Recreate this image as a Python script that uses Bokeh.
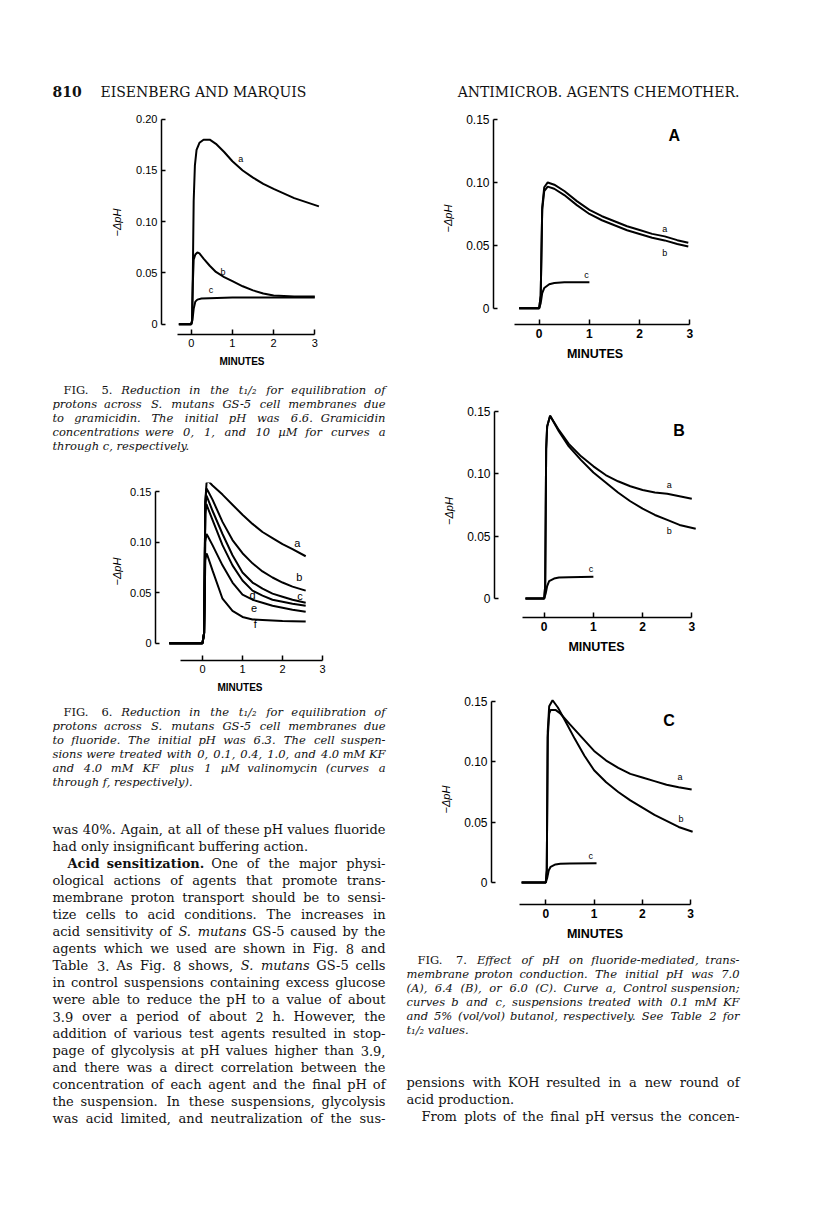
from bokeh.plotting import figure
from bokeh.layouts import column, row
from bokeh.models import Range1d, FixedTicker
from bokeh.core.properties import value
from bokeh.embed import file_html
from bokeh.resources import INLINE

# ---------------- data ----------------
# Fig. 5 (gramicidin)
f5_a_x = [-0.3, 0.0, 0.02, 0.04, 0.06, 0.09, 0.13, 0.2, 0.3, 0.45, 0.6, 0.8, 1.0, 1.25, 1.5, 1.75, 2.0, 2.5, 3.1]
f5_a_y = [0.0, 0.0, 0.003, 0.05, 0.12, 0.155, 0.170, 0.177, 0.180, 0.180, 0.176, 0.168, 0.159, 0.150, 0.143, 0.137, 0.132, 0.123, 0.115]
f5_b_x = [-0.3, 0.0, 0.02, 0.04, 0.06, 0.1, 0.15, 0.2, 0.3, 0.45, 0.6, 0.8, 1.0, 1.25, 1.5, 1.75, 2.0, 2.5, 3.0]
f5_b_y = [0.0, 0.0, 0.003, 0.04, 0.063, 0.068, 0.070, 0.069, 0.064, 0.057, 0.051, 0.046, 0.042, 0.037, 0.033, 0.030, 0.028, 0.027, 0.027]
f5_c_x = [-0.3, 0.0, 0.03, 0.06, 0.1, 0.15, 0.25, 1.0, 2.0, 3.0]
f5_c_y = [0.0, 0.0, 0.004, 0.015, 0.022, 0.024, 0.025, 0.026, 0.026, 0.026]
f5_labels = ["a", "b", "c"]
f5_lab_x = [1.20, 0.77, 0.48]
f5_lab_y = [0.161, 0.051, 0.033]

# Fig. 6 (fluoride)
f6_x = [-0.83, 0.0, 0.04, 0.07, 0.1, 0.13, 0.25, 0.5, 0.75, 1.0, 1.25, 1.5, 1.75, 2.0, 2.25, 2.58]
f6_a_y = [0.0, 0.0, 0.01, 0.14, 0.158, 0.161, 0.156, 0.147, 0.137, 0.127, 0.118, 0.110, 0.104, 0.098, 0.093, 0.086]
f6_b_y = [0.0, 0.0, 0.01, 0.14, 0.153, 0.151, 0.142, 0.120, 0.102, 0.089, 0.079, 0.071, 0.065, 0.060, 0.056, 0.052]
f6_c_y = [0.0, 0.0, 0.01, 0.135, 0.146, 0.143, 0.131, 0.108, 0.087, 0.070, 0.060, 0.054, 0.049, 0.046, 0.043, 0.040]
f6_d_y = [0.0, 0.0, 0.01, 0.128, 0.1375, 0.134, 0.122, 0.097, 0.077, 0.062, 0.052, 0.047, 0.043, 0.041, 0.039, 0.037]
f6_e_y = [0.0, 0.0, 0.01, 0.100, 0.108, 0.106, 0.097, 0.077, 0.060, 0.048, 0.043, 0.040, 0.037, 0.035, 0.033, 0.031]
f6_f_y = [0.0, 0.0, 0.01, 0.082, 0.0887, 0.086, 0.072, 0.044, 0.032, 0.026, 0.0235, 0.023, 0.0225, 0.022, 0.0218, 0.0215]
f6_labels = ["a", "b", "c", "d", "e", "f"]
f6_lab_x = [2.37, 2.42, 2.44, 1.25, 1.29, 1.32]
f6_lab_y = [0.099, 0.065, 0.047, 0.048, 0.035, 0.019]

# Fig. 7A (pH 7.0)
f7a_x = [-0.4, 0.0, 0.03, 0.06, 0.1, 0.17, 0.3, 0.5, 0.75, 1.0, 1.25, 1.5, 1.75, 2.0, 2.25, 2.5, 2.75, 2.97]
f7a_a_y = [0.0, 0.0, 0.01, 0.080, 0.096, 0.0998, 0.098, 0.093, 0.085, 0.078, 0.073, 0.069, 0.065, 0.062, 0.059, 0.057, 0.054, 0.052]
f7a_b_y = [0.0, 0.0, 0.01, 0.078, 0.093, 0.0965, 0.0948, 0.0898, 0.0818, 0.0748, 0.0698, 0.0658, 0.0619, 0.0589, 0.0559, 0.0538, 0.0510, 0.0490]
f7a_c_x = [-0.4, 0.0, 0.03, 0.06, 0.1, 0.2, 0.3, 0.5, 1.0]
f7a_c_y = [0.0, 0.0, 0.004, 0.012, 0.016, 0.019, 0.020, 0.0205, 0.0205]
f7a_labels = ["a", "b", "c"]
f7a_lab_x = [2.5, 2.5, 0.94]
f7a_lab_y = [0.063, 0.044, 0.0265]

# Fig. 7B (pH 6.4)
f7b_a_x = [-0.38, 0.0, 0.02, 0.04, 0.06, 0.12, 0.3, 0.5, 0.75, 1.0, 1.25, 1.5, 1.75, 2.0, 2.25, 2.5, 2.75, 3.0]
f7b_a_y = [0.0, 0.0, 0.01, 0.12, 0.138, 0.1465, 0.135, 0.124, 0.114, 0.106, 0.099, 0.094, 0.090, 0.087, 0.085, 0.084, 0.082, 0.080]
f7b_b_x = [-0.38, 0.0, 0.02, 0.04, 0.06, 0.12, 0.3, 0.5, 0.75, 1.0, 1.25, 1.5, 1.75, 2.0, 2.25, 2.5, 2.75, 3.08]
f7b_b_y = [0.0, 0.0, 0.01, 0.12, 0.138, 0.1465, 0.134, 0.122, 0.111, 0.101, 0.093, 0.085, 0.078, 0.072, 0.067, 0.063, 0.059, 0.056]
f7b_c_x = [-0.38, 0.0, 0.03, 0.06, 0.1, 0.2, 0.3, 0.5, 1.0]
f7b_c_y = [0.0, 0.0, 0.004, 0.010, 0.014, 0.016, 0.0168, 0.017, 0.0175]
f7b_labels = ["a", "b", "c"]
f7b_lab_x = [2.54, 2.54, 0.95]
f7b_lab_y = [0.091, 0.054, 0.0235]

# Fig. 7C (pH 6.0)
f7c_a_x = [-0.5, 0.0, 0.02, 0.04, 0.07, 0.1, 0.2, 0.3, 0.5, 0.75, 1.0, 1.25, 1.5, 1.75, 2.0, 2.25, 2.5, 2.75, 3.02]
f7c_a_y = [0.0, 0.0, 0.01, 0.12, 0.140, 0.143, 0.143, 0.140, 0.131, 0.120, 0.109, 0.101, 0.095, 0.090, 0.087, 0.084, 0.081, 0.079, 0.077]
f7c_b_x = [-0.5, 0.0, 0.02, 0.04, 0.07, 0.14, 0.25, 0.4, 0.6, 0.8, 1.0, 1.25, 1.5, 1.75, 2.0, 2.25, 2.5, 2.75, 3.04]
f7c_b_y = [0.0, 0.0, 0.01, 0.125, 0.146, 0.151, 0.145, 0.134, 0.119, 0.105, 0.093, 0.083, 0.075, 0.068, 0.062, 0.056, 0.051, 0.046, 0.042]
f7c_c_x = [-0.5, 0.0, 0.03, 0.06, 0.1, 0.2, 0.3, 0.5, 1.05]
f7c_c_y = [0.0, 0.0, 0.004, 0.010, 0.013, 0.015, 0.0155, 0.0158, 0.016]
f7c_labels = ["a", "b", "c"]
f7c_lab_x = [2.78, 2.8, 0.93]
f7c_lab_y = [0.087, 0.053, 0.022]

x_ticks = [0, 1, 2, 3]
y_ticks_5 = [0, 0.05, 0.10, 0.15, 0.20]
y_ticks_7 = [0, 0.05, 0.10, 0.15]
y_tick_text = {0: "0", 0.05: "0.05", 0.10: "0.10", 0.15: "0.15", 0.20: "0.20"}

header_left = ["810", "EISENBERG AND MARQUIS"]
header_right = "ANTIMICROB. AGENTS CHEMOTHER."

# "_" prefix = alternate style (upright in captions, italic in body), "^" prefix = bold
cap5 = ["_FIG. _5. Reduction in the t\u2081/\u2082 for equilibration of",
        "protons across S. mutans GS-5 cell membranes due",
        "to gramicidin. The initial pH was 6.6. Gramicidin",
        "concentrations were 0, 1, and 10 \u00b5M for curves a",
        "through c, respectively."]
cap6 = ["_FIG. _6. Reduction in the t\u2081/\u2082 for equilibration of",
        "protons across S. mutans GS-5 cell membranes due",
        "to fluoride. The initial pH was 6.3. The cell suspen-",
        "sions were treated with 0, 0.1, 0.4, 1.0, and 4.0 mM KF",
        "and 4.0 mM KF plus 1 \u00b5M valinomycin (curves a",
        "through f, respectively)."]
cap7 = ["_FIG. _7. Effect of pH on fluoride-mediated, trans-",
        "membrane proton conduction. The initial pH was 7.0",
        "(A), 6.4 (B), or 6.0 (C). Curve a, Control suspension;",
        "curves b and c, suspensions treated with 0.1 mM KF",
        "and 5% (vol/vol) butanol, respectively. See Table 2 for",
        "t\u2081/\u2082 values."]
body_left = ["was 40%. Again, at all of these pH values fluoride",
             "had only insignificant buffering action.",
             "^Acid ^sensitization. One of the major physi-",
             "ological actions of agents that promote trans-",
             "membrane proton transport should be to sensi-",
             "tize cells to acid conditions. The increases in",
             "acid sensitivity of _S. _mutans GS-5 caused by the",
             "agents which we used are shown in Fig. 8 and",
             "Table 3. As Fig. 8 shows, _S. _mutans GS-5 cells",
             "in control suspensions containing excess glucose",
             "were able to reduce the pH to a value of about",
             "3.9 over a period of about 2 h. However, the",
             "addition of various test agents resulted in stop-",
             "page of glycolysis at pH values higher than 3.9,",
             "and there was a direct correlation between the",
             "concentration of each agent and the final pH of",
             "the suspension. In these suspensions, glycolysis",
             "was acid limited, and neutralization of the sus-"]
body_right = ["pensions with KOH resulted in a new round of",
              "acid production.",
              "From plots of the final pH versus the concen-"]

SERIF = "DejaVu Serif"
SANS = "Liberation Sans"

# approximate advance widths (em) of DejaVu Serif, used to spread justified words
EM = {" ": .318, ".": .318, ",": .318, ";": .337, ":": .337, "-": .338, "(": .390, ")": .390, "/": .337,
      "%": .950, "\u00b5": .650, "\u2081": .40, "\u2082": .40,
      "a": .596, "b": .640, "c": .560, "d": .640, "e": .592, "f": .370, "g": .640, "h": .644, "i": .320,
      "j": .310, "k": .606, "l": .320, "m": .948, "n": .644, "o": .602, "p": .640, "q": .640, "r": .478,
      "s": .513, "t": .402, "u": .644, "v": .565, "w": .856, "x": .564, "y": .565, "z": .527}


def em_width(s):
    tot = 0.0
    for ch in s:
        if ch in EM:
            tot += EM[ch]
        elif ch.isdigit():
            tot += .636
        elif ch.isupper():
            tot += .74
        else:
            tot += .6
    return tot


def text_fig(page_left, page_top, w, h):
    p = figure(width=w, height=h, x_range=Range1d(page_left, page_left + w),
               y_range=Range1d(page_top + h, page_top), x_axis_type=None, y_axis_type=None,
               output_backend="svg", toolbar_location=None, min_border=0, title=None)
    p.frame_align = False
    p.outline_line_color = None
    p.grid.visible = False
    return p


def put(p, x, y, s, size, style="normal", font=SERIF, align="left"):
    p.text(x=[x], y=[y], text=[s], text_font=value(font), text_font_size=size,
           text_font_style=style, text_align=align, text_baseline="alphabetic", text_color="#111111")


def paragraph(p, lines, x0, x1, y0, dy, size, base, alt, indent_first=0.0, squeeze=1.0, justify_last=False):
    """Lay out lines; lines are justified between x0 and x1 (words centred on estimated slots)."""
    buckets = {}

    def add(st, al, x, y, t):
        key = (st, al)
        buckets.setdefault(key, ([], [], []))
        buckets[key][0].append(x)
        buckets[key][1].append(y)
        buckets[key][2].append(t)

    for i, line in enumerate(lines):
        left = x0 + (indent_first if i == 0 else 0.0)
        y = y0 + i * dy
        last = (i == len(lines) - 1) and not justify_last
        if last:
            add(base, "left", left, y, line.replace("_", "").replace("^", ""))
            continue
        toks = []
        for t in line.split(" "):
            if t.startswith("_"):
                toks.append((t[1:], alt))
            elif t.startswith("^"):
                toks.append((t[1:], "bold"))
            else:
                toks.append((t, base))
        widths = [em_width(t) * size * squeeze * (1.08 if st == "bold" else 1.0) for t, st in toks]
        gap = (x1 - left - sum(widths)) / (len(toks) - 1)
        x = left
        n = len(toks)
        for k, ((t, st), w) in enumerate(zip(toks, widths)):
            if k == 0:
                add(st, "left", left, y, t)
            elif k == n - 1:
                add(st, "right", x1, y, t)
            else:
                add(st, "center", x + w / 2, y, t)
            x += w + gap
    for (st, al), (xs, ys, ts) in buckets.items():
        p.text(x=xs, y=ys, text=ts, text_font=value(SERIF), text_font_size=f"{size}px",
               text_font_style=st, text_align=al, text_baseline="alphabetic", text_color="#111111")


def chart_fig(page_left, page_top, w, h, fl, fr, ft, fb, x0, xs, y0, ys, yticks, xlo, ylabel_standoff,
              tick_size="11px", min_size="10px", bold_axis=False):
    p = figure(width=w, height=h,
               x_range=Range1d((fl - x0) / xs, (fr - x0) / xs),
               y_range=Range1d((y0 - fb) / ys, (y0 - ft) / ys),
               min_border_left=fl - page_left, min_border_right=page_left + w - fr,
               min_border_top=ft - page_top, min_border_bottom=page_top + h - fb,
               output_backend="svg", toolbar_location=None, title=None)
    p.frame_align = False
    p.outline_line_color = None
    p.grid.visible = False
    xa = p.xaxis[0]
    xa.ticker = FixedTicker(ticks=x_ticks)
    xa.bounds = (xlo, 3)
    xa.major_tick_in = 5
    xa.major_tick_out = 0
    xa.minor_tick_line_color = None
    xa.axis_line_width = 1.5
    xa.major_tick_line_width = 1.5
    xa.major_label_standoff = 4
    xa.major_label_text_font = SANS
    xa.major_label_text_font_size = tick_size
    xa.major_label_text_font_style = "bold" if bold_axis else "normal"
    xa.major_label_text_color = "black"
    xa.axis_label = "MINUTES"
    xa.axis_label_text_font = SANS
    xa.axis_label_text_font_size = min_size
    xa.axis_label_text_font_style = "bold"
    xa.axis_label_text_color = "black"
    xa.axis_label_standoff = 6
    ya = p.yaxis[0]
    ya.ticker = FixedTicker(ticks=yticks)
    ya.major_label_overrides = {t: y_tick_text[t] for t in yticks}
    ya.bounds = (0, yticks[-1])
    ya.major_tick_in = 4
    ya.major_tick_out = 0
    ya.minor_tick_line_color = None
    ya.axis_line_width = 1.5
    ya.major_tick_line_width = 1.5
    ya.major_label_standoff = 4
    ya.major_label_text_font = SANS
    ya.major_label_text_font_size = tick_size
    ya.major_label_text_color = "black"
    ya.axis_label = "\u2212\u0394pH"
    ya.axis_label_text_font = SANS
    ya.axis_label_text_font_size = "11px"
    ya.axis_label_text_font_style = "italic"
    ya.axis_label_text_color = "black"
    ya.axis_label_standoff = ylabel_standoff
    return p


def curve(p, xs, ys):
    p.line(xs, ys, line_color="black", line_width=2)


def curve_labels(p, xs, ys, labels, size="9px"):
    p.text(x=xs, y=ys, text=labels, text_font=value(SANS), text_font_size=size,
           text_align="center", text_baseline="middle", text_color="black")


L0, L1 = 60, 393     # left column text edges (page px)
R0, R1 = 414, 747    # right column text edges
CAP = 11.5           # caption font size (px)
CAP_DY = 14          # caption line spacing
SQ = 0.95            # italic glyphs run a little narrower than the width table

# ---------------- left column ----------------
hL = text_fig(8, 8, 402, 104)
put(hL, 60, 99, header_left[0], "14px", "bold")
put(hL, 108, 99, header_left[1], "14px")

c5 = chart_fig(8, 112, 402, 276, 169, 330, 118, 342, 198.7, 41.2, 331.7, 1025, y_ticks_5, -0.34, 10)
curve(c5, f5_a_x, f5_a_y)
curve(c5, f5_b_x, f5_b_y)
curve(c5, f5_c_x, f5_c_y)
curve_labels(c5, f5_lab_x, f5_lab_y, f5_labels)

t5 = text_fig(8, 388, 402, 90)
paragraph(t5, cap5, L0, L1, 397, CAP_DY, CAP, "italic", "normal", indent_first=11, squeeze=SQ)

c6 = chart_fig(8, 478, 402, 227, 163, 332, 490, 668, 210, 40, 650.7, 1011, y_ticks_7, -0.56, 4)
for yy in [f6_a_y, f6_b_y, f6_c_y, f6_d_y, f6_e_y, f6_f_y]:
    curve(c6, f6_x, yy)
curve_labels(c6, f6_lab_x, f6_lab_y, f6_labels, "11px")

bL = text_fig(8, 705, 402, 502)
paragraph(bL, cap6, L0, L1, 719, CAP_DY, CAP, "italic", "normal", indent_first=11, squeeze=SQ)
paragraph(bL, body_left[:2], L0, L1, 837, 17, 13, "normal", "italic")
paragraph(bL, body_left[2:], L0, L1, 837 + 2 * 17, 17, 13, "normal", "italic", indent_first=15,
          justify_last=True)

colL = column([hL, c5, t5, c6, bL], spacing=0)

# ---------------- right column ----------------
hR = text_fig(410, 8, 398, 104)
put(hR, R1, 99, header_right, "14px", align="right")

c7a = chart_fig(410, 112, 398, 283, 501, 704, 120, 332, 546.7, 50.2, 315.7, 1260, y_ticks_7, -0.5, 9,
                tick_size="12px", min_size="12.5px", bold_axis=True)
curve(c7a, f7a_x, f7a_a_y)
curve(c7a, f7a_x, f7a_b_y)
curve(c7a, f7a_c_x, f7a_c_y)
curve_labels(c7a, f7a_lab_x, f7a_lab_y, f7a_labels)
c7a.text(x=[2.69], y=[0.137], text=["A"], text_font=value(SANS), text_font_size="16px",
         text_font_style="bold", text_align="center", text_baseline="middle")

c7b = chart_fig(410, 395, 398, 285, 502, 706, 412, 625, 551.7, 49.2, 606, 1247, y_ticks_7, -0.44, 9,
                tick_size="12px", min_size="12.5px", bold_axis=True)
curve(c7b, f7b_a_x, f7b_a_y)
curve(c7b, f7b_b_x, f7b_b_y)
curve(c7b, f7b_c_x, f7b_c_y)
curve_labels(c7b, f7b_lab_x, f7b_lab_y, f7b_labels)
c7b.text(x=[2.74], y=[0.1345], text=["B"], text_font=value(SANS), text_font_size="16px",
         text_font_style="bold", text_align="center", text_baseline="middle")

c7c = chart_fig(410, 680, 398, 274, 499, 706, 702, 912, 553.3, 48.3, 890, 1207, y_ticks_7, -0.55, 9,
                tick_size="12px", min_size="12.5px", bold_axis=True)
curve(c7c, f7c_a_x, f7c_a_y)
curve(c7c, f7c_b_x, f7c_b_y)
curve(c7c, f7c_c_x, f7c_c_y)
curve_labels(c7c, f7c_lab_x, f7c_lab_y, f7c_labels)
c7c.text(x=[2.55], y=[0.134], text=["C"], text_font=value(SANS), text_font_size="16px",
         text_font_style="bold", text_align="center", text_baseline="middle")

bR = text_fig(410, 954, 398, 253)
paragraph(bR, cap7, R0, R1, 967, CAP_DY, CAP, "italic", "normal", indent_first=11, squeeze=SQ)
paragraph(bR, body_right[:2], R0, R1, 1090, 17, 13, "normal", "italic")
paragraph(bR, body_right[2:], R0, R1, 1090 + 2 * 17, 17, 13, "normal", "italic", indent_first=15,
          justify_last=True)

colR = column([hR, c7a, c7b, c7c, bR], spacing=0)

p = row([colL, colR], spacing=0)
open("out.html", "w").write(file_html(p, INLINE))
